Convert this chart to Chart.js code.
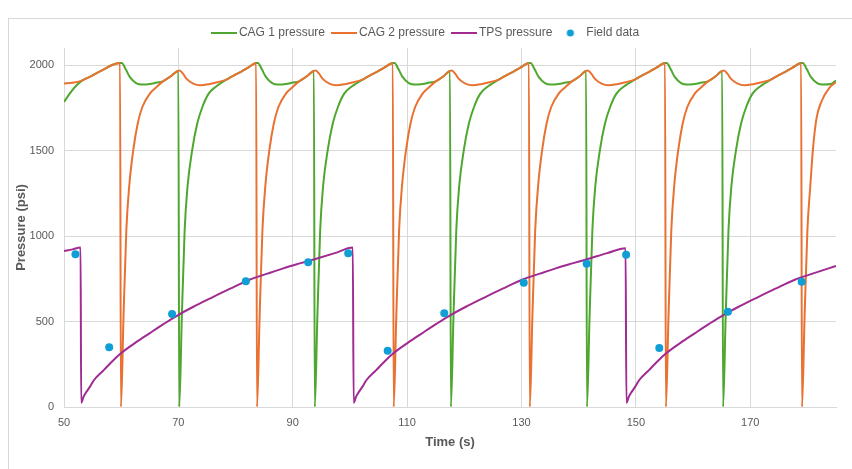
<!DOCTYPE html>
<html>
<head>
<meta charset="utf-8">
<script src="https://cdn.jsdelivr.net/npm/chart.js@4.4.1/dist/chart.umd.min.js"></script>
<style>
    body { margin: 0; background: #ffffff; }
    canvas { display: block; }
</style>
</head>
<body>
<canvas id="pressureChart" width="852" height="469"></canvas>
<script>
// CAG 1 pressure (green) - time in s, pressure in psi
const cag1Time = [50.0, 51.0, 52.2, 53.3, 54.5, 55.7, 56.9, 58.3, 59.8,
    60.1, 60.8, 61.5, 62.6, 63.6, 65.0, 66.2, 67.3, 68.6, 70.0,
    70.15, 70.6, 71.1, 71.6, 72.4, 73.3, 74.2, 75.3, 76.5, 78.4, 79.8, 81.0, 82.2, 83.6,
    83.9, 84.6, 85.3, 86.4, 87.4, 88.8, 90.0, 91.1, 92.4, 93.7,
    93.85, 94.3, 94.8, 95.3, 96.1, 97.0, 97.9, 99.0, 100.2, 102.2, 103.6, 104.8, 106.0, 107.5,
    107.8, 108.5, 109.2, 110.3, 111.3, 112.7, 113.9, 115.0, 116.3, 117.5,
    117.65, 118.1, 118.6, 119.1, 119.9, 120.8, 121.7, 122.8, 124.0, 126.0, 127.4, 128.6, 129.8, 131.3,
    131.6, 132.3, 133.0, 134.1, 135.1, 136.5, 137.7, 138.8, 140.1, 141.3,
    141.45, 141.9, 142.4, 142.9, 143.7, 144.6, 145.5, 146.6, 147.8, 149.8, 151.2, 152.4, 153.6, 155.1,
    155.4, 156.1, 156.8, 157.9, 158.9, 160.3, 161.5, 162.6, 163.9, 165.1,
    165.25, 165.7, 166.2, 166.7, 167.5, 168.4, 169.3, 170.4, 171.6, 173.6, 175.0, 176.2, 177.4, 178.9,
    179.2, 179.9, 180.6, 181.7, 182.7, 184.1, 185.0];
const cag1Psi = [1784, 1833, 1882, 1912, 1931, 1953, 1973, 1999, 2012,
    2012, 1975, 1931, 1895, 1886, 1889, 1898, 1905, 1933, 1966,
    0, 520, 1035, 1290, 1500, 1658, 1755, 1833, 1872, 1915, 1942, 1962, 1985, 2012,
    2012, 1975, 1931, 1895, 1886, 1889, 1898, 1905, 1933, 1966,
    0, 520, 1035, 1290, 1500, 1658, 1755, 1833, 1872, 1915, 1942, 1962, 1985, 2012,
    2012, 1975, 1931, 1895, 1886, 1889, 1898, 1905, 1933, 1966,
    0, 520, 1035, 1290, 1500, 1658, 1755, 1833, 1872, 1915, 1942, 1962, 1985, 2012,
    2012, 1975, 1931, 1895, 1886, 1889, 1898, 1905, 1933, 1966,
    0, 520, 1035, 1290, 1500, 1658, 1755, 1833, 1872, 1915, 1942, 1962, 1985, 2012,
    2012, 1975, 1931, 1895, 1886, 1889, 1898, 1905, 1933, 1966,
    0, 520, 1035, 1290, 1500, 1658, 1755, 1833, 1872, 1915, 1942, 1962, 1985, 2012,
    2012, 1975, 1931, 1895, 1886, 1889, 1910];

// CAG 2 pressure (orange)
const cag2Time = [50.0, 51.5, 53.0, 54.5, 55.7, 56.9, 58.3, 59.8,
    59.95, 60.4, 60.9, 61.4, 62.1, 62.9, 63.7, 65.0, 66.2, 67.3, 68.6, 69.9, 70.2, 70.8, 71.4, 72.6, 73.8, 75.5, 76.8, 78.4, 79.8, 81.0, 82.2, 83.6,
    83.75, 84.2, 84.7, 85.2, 85.9, 86.7, 87.5, 88.8, 90.0, 91.1, 92.4, 93.7, 94.0, 94.6, 95.2, 96.4, 97.6, 99.3, 100.6, 102.2, 103.6, 104.8, 106.0, 107.5,
    107.65, 108.1, 108.6, 109.1, 109.8, 110.6, 111.4, 112.7, 113.9, 115.0, 116.3, 117.5, 117.8, 118.4, 119.0, 120.2, 121.4, 123.1, 124.4, 126.0, 127.4, 128.6, 129.8, 131.3,
    131.45, 131.9, 132.4, 132.9, 133.6, 134.4, 135.2, 136.5, 137.7, 138.8, 140.1, 141.3, 141.6, 142.2, 142.8, 144.0, 145.2, 146.9, 148.2, 149.8, 151.2, 152.4, 153.6, 155.1,
    155.25, 155.7, 156.2, 156.7, 157.4, 158.2, 159.0, 160.3, 161.5, 162.6, 163.9, 165.1, 165.4, 166.0, 166.6, 167.8, 169.0, 170.7, 172.0, 173.6, 175.0, 176.2, 177.4, 178.9,
    179.05, 179.5, 180.0, 180.5, 181.0, 181.6, 182.5, 183.9, 185.0];
const cag2Psi = [1893, 1897, 1908, 1931, 1953, 1973, 1999, 2012,
    0, 520, 1035, 1290, 1500, 1660, 1755, 1833, 1872, 1905, 1933, 1966, 1968, 1950, 1921, 1892, 1882, 1890, 1900, 1915, 1942, 1962, 1985, 2012,
    0, 520, 1035, 1290, 1500, 1660, 1755, 1833, 1872, 1905, 1933, 1966, 1968, 1950, 1921, 1892, 1882, 1890, 1900, 1915, 1942, 1962, 1985, 2012,
    0, 520, 1035, 1290, 1500, 1660, 1755, 1833, 1872, 1905, 1933, 1966, 1968, 1950, 1921, 1892, 1882, 1890, 1900, 1915, 1942, 1962, 1985, 2012,
    0, 520, 1035, 1290, 1500, 1660, 1755, 1833, 1872, 1905, 1933, 1966, 1968, 1950, 1921, 1892, 1882, 1890, 1900, 1915, 1942, 1962, 1985, 2012,
    0, 520, 1035, 1290, 1500, 1660, 1755, 1833, 1872, 1905, 1933, 1966, 1968, 1950, 1921, 1892, 1882, 1890, 1900, 1915, 1942, 1962, 1985, 2012,
    0, 520, 1035, 1290, 1520, 1690, 1790, 1870, 1900];

// TPS pressure (purple)
const tpsTime = [50.0, 51.5, 52.9,
    53.0, 53.45, 53.95, 54.55, 55.25, 56.95, 58.45, 59.95, 62.45, 64.95, 67.45, 69.95, 72.55, 75.55, 79.05, 82.55, 85.55, 88.35, 91.25, 94.25, 97.35, 100.5,
    100.65, 101.1, 101.6, 102.2, 102.9, 104.6, 106.1, 107.6, 110.1, 112.6, 115.1, 117.6, 120.2, 123.2, 126.7, 130.2, 133.2, 136.0, 138.9, 141.9, 145.0, 148.2,
    148.35, 148.8, 149.3, 149.9, 150.6, 152.3, 153.8, 155.3, 157.8, 160.3, 162.8, 165.3, 167.9, 170.9, 174.4, 177.9, 180.9, 183.7, 185.0];
const tpsPsi = [912, 922, 933,
    25, 62, 90, 119, 158, 216, 268, 314, 375, 431, 486, 538, 585, 635, 692, 746, 780, 811, 840, 869, 900, 933,
    25, 62, 90, 119, 158, 216, 268, 314, 375, 431, 486, 538, 585, 635, 692, 746, 780, 811, 840, 869, 900, 928,
    25, 62, 90, 119, 158, 216, 268, 314, 375, 431, 486, 538, 585, 635, 692, 746, 780, 811, 825];

// Field data (blue dots)
const fieldTime = [52.0, 57.9, 68.9, 81.8, 92.7, 99.7, 106.6, 116.5, 130.4, 141.4, 148.3, 154.1, 166.1, 179.0];
const fieldPsi = [894, 349, 544, 736, 847, 900, 329, 548, 727, 838, 890, 345, 557, 732];

// Axis ticks
const xTicks = [50, 70, 90, 110, 130, 150, 170];
const yTicks = [0, 500, 1000, 1500, 2000];

const colors = ['#4EA72E', '#E97132', '#A02B93', '#0F9ED5'];
const gridColor = '#d9d9d9';
const textColor = '#595959';
const fontFamily = "'Liberation Sans', Arial, sans-serif";

function toPoints(xs, ys) {
    return xs.map((x, i) => ({ x: x, y: ys[i] }));
}

// legend icons are 34px wide canvases; the visible mark sits to the right
// so the text starts close to it, like the original
function lineIcon(color) {
    const c = document.createElement('canvas');
    c.width = 34;
    c.height = 2;
    const g = c.getContext('2d');
    g.fillStyle = color;
    g.fillRect(8, 0, 26, 2);
    return c;
}

function dotIcon(color) {
    const c = document.createElement('canvas');
    c.width = 34;
    c.height = 8;
    const g = c.getContext('2d');
    g.fillStyle = color;
    g.beginPath();
    g.arc(20, 4, 3.6, 0, Math.PI * 2);
    g.fill();
    return c;
}

const legendIcons = [lineIcon(colors[0]), lineIcon(colors[1]), lineIcon(colors[2]), dotIcon(colors[3])];

// light frame round the whole chart
const framePlugin = {
    id: 'frame',
    beforeDraw(chart) {
        const ctx = chart.ctx;
        ctx.save();
        ctx.fillStyle = '#ffffff';
        ctx.fillRect(0, 0, chart.width, chart.height);
        ctx.strokeStyle = gridColor;
        ctx.lineWidth = 1;
        ctx.strokeRect(8.5, 18.5, chart.width, chart.height);
        ctx.restore();
    }
};

// fix legend height so the plot starts where the original does
const legendHeightPlugin = {
    id: 'legendHeight',
    beforeInit(chart) {
        const fit = chart.legend.fit;
        chart.legend.fit = function () {
            fit.bind(chart.legend)();
            this.height = 23;
        };
    }
};

const lineStyle = {
    borderWidth: 2,
    pointRadius: 0,
    pointHoverRadius: 0,
    fill: false,
    cubicInterpolationMode: 'monotone'
};

const ctx = document.getElementById('pressureChart').getContext('2d');

const pressureChart = new Chart(ctx, {
    type: 'line',
    data: {
        datasets: [
            Object.assign({ label: 'CAG 1 pressure', data: toPoints(cag1Time, cag1Psi), borderColor: colors[0], backgroundColor: colors[0], order: 4 }, lineStyle),
            Object.assign({ label: 'CAG 2 pressure', data: toPoints(cag2Time, cag2Psi), borderColor: colors[1], backgroundColor: colors[1], order: 3 }, lineStyle),
            Object.assign({ label: 'TPS pressure', data: toPoints(tpsTime, tpsPsi), borderColor: colors[2], backgroundColor: colors[2], order: 2 }, lineStyle),
            {
                label: 'Field data',
                data: toPoints(fieldTime, fieldPsi),
                showLine: false,
                pointRadius: 4,
                pointHoverRadius: 4,
                pointBorderWidth: 0,
                pointBackgroundColor: colors[3],
                backgroundColor: colors[3],
                borderColor: colors[3],
                order: 1
            }
        ]
    },
    options: {
        responsive: false,
        animation: false,
        layout: {
            padding: { top: 25, left: 10, right: 16, bottom: 15 }
        },
        plugins: {
            tooltip: { enabled: false },
            legend: {
                position: 'top',
                labels: {
                    usePointStyle: true,
                    pointStyleWidth: 26,
                    padding: 2,
                    color: textColor,
                    font: { family: fontFamily, size: 12 },
                    sort: (a, b) => a.datasetIndex - b.datasetIndex,
                    generateLabels(chart) {
                        const items = Chart.defaults.plugins.legend.labels.generateLabels(chart);
                        items.forEach(item => { item.pointStyle = legendIcons[item.datasetIndex]; });
                        return items;
                    }
                }
            }
        },
        scales: {
            x: {
                type: 'linear',
                min: 50,
                max: 185,
                afterBuildTicks: scale => { scale.ticks = xTicks.map(v => ({ value: v })); },
                afterFit: scale => { scale.height = 47; },
                grid: { color: gridColor, drawTicks: false },
                border: { color: gridColor },
                ticks: {
                    padding: 9,
                    color: textColor,
                    font: { family: fontFamily, size: 11 },
                    callback: value => String(value)
                },
                title: {
                    display: true,
                    text: 'Time (s)',
                    color: textColor,
                    font: { family: fontFamily, size: 13, weight: 'bold' }
                }
            },
            y: {
                min: 0,
                max: 2100,
                afterBuildTicks: scale => { scale.ticks = yTicks.map(v => ({ value: v })); },
                afterFit: scale => { scale.width = 54; },
                grid: { color: gridColor, drawTicks: false },
                border: { color: gridColor },
                ticks: {
                    padding: 10,
                    color: textColor,
                    font: { family: fontFamily, size: 11 },
                    callback: value => String(value)
                },
                title: {
                    display: true,
                    text: 'Pressure (psi)',
                    color: textColor,
                    font: { family: fontFamily, size: 13, weight: 'bold' }
                }
            }
        }
    },
    plugins: [framePlugin, legendHeightPlugin]
});
</script>
</body>
</html>
